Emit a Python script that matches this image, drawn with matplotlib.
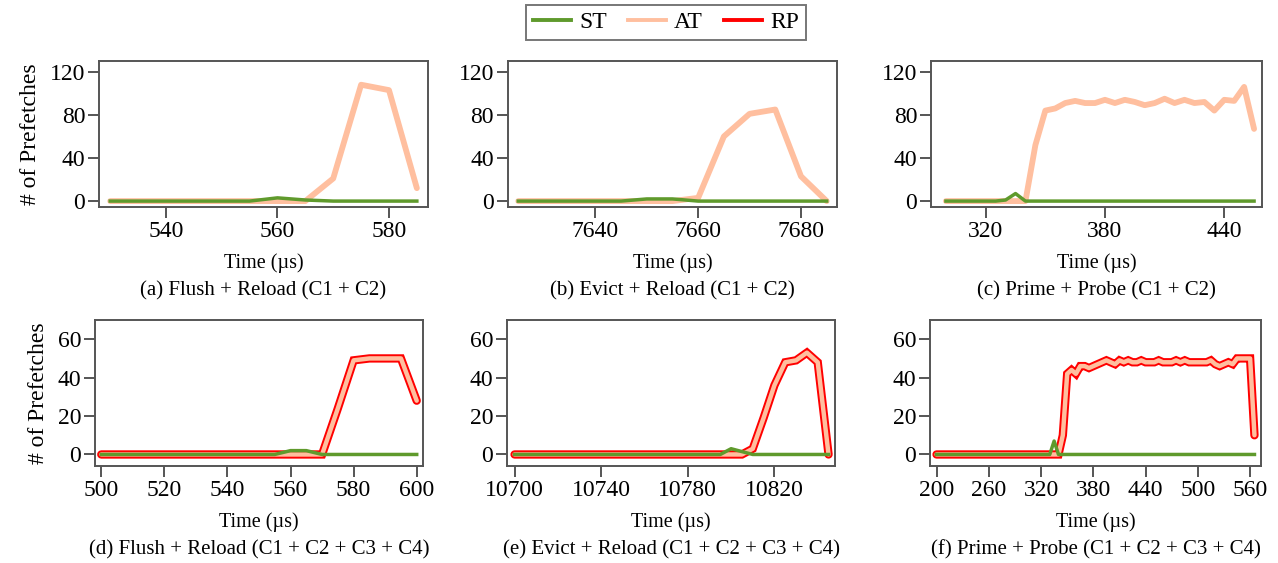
import matplotlib
matplotlib.use("Agg")
import matplotlib.pyplot as plt
from matplotlib.lines import Line2D

plt.rcParams['font.family'] = ['Liberation Serif', 'DejaVu Serif']

ST_COLOR = '#5f9a2c'
AT_COLOR = '#ffbf9f'
RP_COLOR = '#ff0000'

# (a) Flush + Reload (C1 + C2)
t_a = list(range(530, 586, 5))
st_a = [0, 0, 0, 0, 0, 0, 3, 1, 0, 0, 0, 0]
at_a = [0, 0, 0, 0, 0, 0, 0, 0, 21, 108, 103, 12]

# (b) Evict + Reload (C1 + C2)
t_b = list(range(7625, 7686, 5))
st_b = [0, 0, 0, 0, 0, 2, 2, 0, 0, 0, 0, 0, 0]
at_b = [0, 0, 0, 0, 0, 0, 0, 3, 60, 81, 85, 23, 0]

# (c) Prime + Probe (C1 + C2)
t_c = list(range(300, 456, 5))
st_c = [0, 0, 0, 0, 0, 0, 1, 7, 0] + [0] * 23
at_c = [0, 0, 0, 0, 0, 0, 0, 0, 0,
        52, 84, 86, 91, 93, 91, 91, 94, 91, 94, 92, 89, 91, 95, 91, 94,
        91, 92, 84, 94, 93, 106, 67]

# (d) Flush + Reload (C1 + C2 + C3 + C4)
t_d = list(range(500, 601, 5))
st_d = [0] * 12 + [2, 2, 0, 0, 0, 0, 0, 0, 0]
rp_d = [0] * 15 + [24, 49, 50, 50, 50, 28]
at_d = [0] * 15 + [24, 49, 50, 50, 50, 28]

# (e) Evict + Reload (C1 + C2 + C3 + C4)
t_e = list(range(10700, 10846, 5))
st_e = [0] * 20 + [3, 1.5] + [0] * 8
rp_e = [0] * 22 + [3, 19, 36, 48, 49, 53, 48, 0]
at_e = [0] * 22 + [3, 19, 36, 48, 49, 53, 48, 0]

# (f) Prime + Probe (C1 + C2 + C3 + C4)
t_f = list(range(200, 566, 5))
st_f = [0] * 27 + [7] + [0] * 46
rp_f = [0] * 29 + [10, 42, 44, 42, 46, 46, 45, 46, 47, 48,
                   49, 48, 47, 49, 48, 49, 48, 48, 49, 48,
                   48, 48, 49, 48, 48, 48, 49, 48, 49, 48,
                   48, 48, 48, 48, 49, 47, 46, 47, 48, 47,
                   50, 50, 50, 50, 10]
at_f = list(rp_f)

top_panels = [
    (t_a, st_a, at_a, (528, 587), [540, 560, 580], '(a) Flush + Reload (C1 + C2)',
     [0.0775, 0.6323, 0.2574, 0.2593]),
    (t_b, st_b, at_b, (7623, 7687), [7640, 7660, 7680], '(b) Evict + Reload (C1 + C2)',
     [0.3975, 0.6323, 0.2574, 0.2593]),
    (t_c, st_c, at_c, (292.5, 459), [320, 380, 440], '(c) Prime + Probe (C1 + C2)',
     [0.7285, 0.6323, 0.2590, 0.2593]),
]
bottom_panels = [
    (t_d, st_d, at_d, rp_d, (498, 602), [500, 520, 540, 560, 580, 600],
     '(d) Flush + Reload (C1 + C2 + C3 + C4)', [0.0743, 0.1723, 0.2567, 0.2593]),
    (t_e, st_e, at_e, rp_e, (10696.5, 10848), [10700, 10740, 10780, 10820],
     '(e) Evict + Reload (C1 + C2 + C3 + C4)', [0.3967, 0.1723, 0.2567, 0.2593]),
    (t_f, st_f, at_f, rp_f, (192.5, 572.5), [200, 260, 320, 380, 440, 500, 560],
     '(f) Prime + Probe (C1 + C2 + C3 + C4)', [0.7277, 0.1723, 0.2590, 0.2593]),
]

fig = plt.figure(figsize=(12.78, 5.63), dpi=100)


def style(ax, xlim, xticks, ylim, yticks, caption, ylabel):
    ax.set_xlim(*xlim)
    ax.set_ylim(*ylim)
    ax.set_xticks(xticks)
    ax.set_yticks(yticks)
    for s in ax.spines.values():
        s.set_color('#555555')
        s.set_linewidth(1.4)
    ax.tick_params(direction='out', length=8, width=1.4, color='#555555',
                   labelsize=17, pad=2)
    ax.text(0.5, -0.385, 'Time (µs)', transform=ax.transAxes, ha='center',
            va='center', fontsize=14.5)
    if ylabel:
        ax.set_ylabel('# of Prefetches', fontsize=17, labelpad=6)
    ax.text(0.5, -0.575, caption, transform=ax.transAxes, ha='center',
            va='center', fontsize=15)


for i, (t, st, at, xlim, xticks, cap, rect) in enumerate(top_panels):
    ax = fig.add_axes(rect)
    ax.plot(t, at, color=AT_COLOR, lw=4.2, solid_capstyle='round', zorder=2)
    ax.plot(t, st, color=ST_COLOR, lw=2.5, zorder=3)
    style(ax, xlim, xticks, (-5.5, 130), [0, 40, 80, 120], cap, i == 0)

for i, (t, st, at, rp, xlim, xticks, cap, rect) in enumerate(bottom_panels):
    ax = fig.add_axes(rect)
    ax.plot(t, rp, color=RP_COLOR, lw=6.0, solid_capstyle='round',
            solid_joinstyle='miter', zorder=2)
    ax.plot(t, at, color=AT_COLOR, lw=3.2, solid_capstyle='round', zorder=3)
    ax.plot(t, st, color=ST_COLOR, lw=2.5, zorder=4)
    style(ax, xlim, xticks, (-6, 70), [0, 20, 40, 60], cap, i == 0)

handles = [Line2D([], [], color=ST_COLOR, lw=2.8),
           Line2D([], [], color=AT_COLOR, lw=2.8),
           Line2D([], [], color=RP_COLOR, lw=2.8)]
leg = fig.legend(handles, ['ST', 'AT', 'RP'], loc='center',
                 bbox_to_anchor=(666 / 1278, 1 - 22.5 / 563), ncol=3,
                 fontsize=17, frameon=True, fancybox=False, handlelength=1.6,
                 columnspacing=0.9, handletextpad=0.35, borderpad=0.3,
                 borderaxespad=0)
leg.get_frame().set_edgecolor('#555555')
leg.get_frame().set_linewidth(1.4)

fig.savefig('out.png', dpi=100)
